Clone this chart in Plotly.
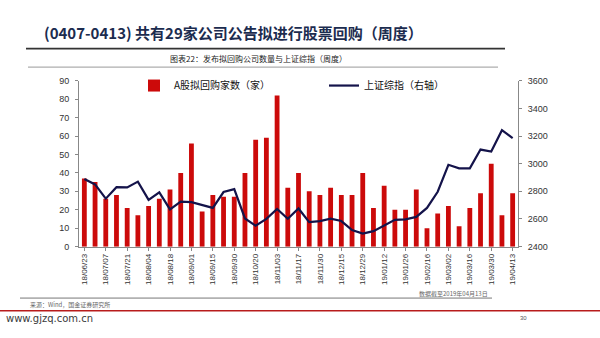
import plotly.graph_objects as go

dates = ["18/06/23", "18/06/30", "18/07/07", "18/07/14", "18/07/21", "18/07/28", "18/08/04",
         "18/08/11", "18/08/18", "18/08/25", "18/09/01", "18/09/08", "18/09/15", "18/09/22",
         "18/09/30", "18/10/13", "18/10/20", "18/10/27", "18/11/03", "18/11/10", "18/11/17",
         "18/11/24", "18/11/30", "18/12/08", "18/12/15", "18/12/22", "18/12/29", "19/01/05",
         "19/01/12", "19/01/19", "19/01/26", "19/02/02", "19/02/16", "19/02/23", "19/03/02",
         "19/03/09", "19/03/16", "19/03/23", "19/03/30", "19/04/06", "19/04/13"]

buybacks = [37, 35, 26, 28, 21, 17, 22, 26, 31, 40, 56, 19, 28, 27, 27, 40, 58, 59, 82, 32, 40,
            30, 28, 32, 28, 28, 40, 21, 33, 20, 20, 31, 10, 18, 22, 11, 21, 29, 45, 17, 29]

sse = [2889, 2850, 2747, 2830, 2828, 2870, 2738, 2792, 2669, 2726, 2722, 2702, 2680, 2795,
       2816, 2604, 2551, 2601, 2672, 2602, 2676, 2577, 2585, 2603, 2585, 2520, 2494, 2512,
       2552, 2594, 2597, 2615, 2680, 2797, 2992, 2966, 2966, 3102, 3088, 3242, 3184]

tick_labels = dates[::2]

W, H = 600, 338


def px(x):
    return x / W


def py(y):
    return 1 - y / H


fig = go.Figure()
fig.add_trace(go.Bar(
    x=dates, y=buybacks, name="A股拟回购家数（家）",
    marker=dict(color="#cc0a0a", line=dict(width=0)), width=0.45,
    legend="legend", yaxis="y",
))
fig.add_trace(go.Scatter(
    x=dates, y=sse, name="上证综指（右轴）", mode="lines",
    line=dict(color="#14134a", width=2.2), legend="legend2", yaxis="y2",
))

axis_font = dict(family="Liberation Sans, Arial, sans-serif", size=9, color="#333333")

fig.update_layout(
    width=W, height=H,
    margin=dict(l=0, r=0, t=0, b=0),
    paper_bgcolor="white", plot_bgcolor="white",
    bargap=0.5,
    xaxis=dict(
        domain=[px(79), px(518)],
        type="category", range=[-0.5, len(dates) - 0.5],
        tickmode="array", tickvals=tick_labels, ticktext=tick_labels,
        tickangle=-90, tickfont=dict(family="Liberation Sans, Arial, sans-serif", size=8, color="#333333"),
        showline=True, linecolor="#888888", linewidth=1,
        ticks="outside", ticklen=3, tickcolor="#888888",
        showgrid=False, zeroline=False,
    ),
    yaxis=dict(
        domain=[py(249), py(78)],
        range=[0, 90], tickvals=[0, 10, 20, 30, 40, 50, 60, 70, 80, 90],
        tickfont=axis_font, showline=True, linecolor="#888888", linewidth=1,
        ticks="outside", ticklen=3, tickcolor="#888888",
        showgrid=False, zeroline=False, ticklabelstandoff=4,
    ),
    yaxis2=dict(
        overlaying="y", side="right", anchor="x",
        range=[2400, 3600], tickvals=[2400, 2600, 2800, 3000, 3200, 3400, 3600],
        tickfont=axis_font, showline=True, linecolor="#888888", linewidth=1,
        ticks="outside", ticklen=3, tickcolor="#888888",
        showgrid=False, zeroline=False, ticklabelstandoff=4,
    ),
    legend=dict(
        x=px(134), y=py(83), xanchor="left", yanchor="middle",
        bgcolor="rgba(0,0,0,0)", itemwidth=30,
        font=dict(family="Noto Sans CJK SC", size=10, color="#111111"),
    ),
    legend2=dict(
        x=px(324), y=py(83), xanchor="left", yanchor="middle",
        bgcolor="rgba(0,0,0,0)", itemwidth=30,
        font=dict(family="Noto Sans CJK SC", size=10, color="#111111"),
    ),
    showlegend=True,
)

# page decorations
fig.add_annotation(
    x=px(42), y=py(28), xref="paper", yref="paper", xanchor="left", yanchor="middle",
    text="<b>(0407-0413) 共有29家公司公告拟进行股票回购（周度）</b>", showarrow=False,
    font=dict(family="Noto Sans CJK SC", size=15, color="#1c2c4f"),
)
fig.add_shape(type="line", xref="paper", yref="paper", x0=px(26), x1=px(505), y0=py(45), y1=py(45),
              line=dict(color="#333333", width=1.6))
fig.add_annotation(
    x=px(258), y=py(55), xref="paper", yref="paper", xanchor="center", yanchor="middle",
    text="图表22：发布拟回购公司数量与上证综指（周度）", showarrow=False,
    font=dict(family="Noto Sans CJK SC", size=8, color="#222222"),
)
fig.add_shape(type="line", xref="paper", yref="paper", x0=px(28), x1=px(498), y0=py(64), y1=py(64),
              line=dict(color="#999999", width=1))

fig.add_annotation(
    x=px(490), y=py(297), xref="paper", yref="paper", xanchor="right", yanchor="middle",
    text="数据截至2019年04月13日", showarrow=False,
    font=dict(family="Noto Sans CJK SC", size=6, color="#666666"),
)
fig.add_shape(type="line", xref="paper", yref="paper", x0=px(20), x1=px(492), y0=py(302), y1=py(302),
              line=dict(color="#777777", width=1))
fig.add_annotation(
    x=px(28), y=py(309), xref="paper", yref="paper", xanchor="left", yanchor="middle",
    text="来源：Wind，国金证券研究所", showarrow=False,
    font=dict(family="Noto Sans CJK SC", size=6, color="#666666"),
)
fig.add_shape(type="line", xref="paper", yref="paper", x0=0, x1=1, y0=py(315), y1=py(315),
              line=dict(color="#b81c1c", width=1.5))
fig.add_annotation(
    x=px(4), y=py(323), xref="paper", yref="paper", xanchor="left", yanchor="middle",
    text="www.gjzq.com.cn", showarrow=False,
    font=dict(family="DejaVu Sans", size=10, color="#3a3a3a"),
)
fig.add_annotation(
    x=px(523), y=py(323), xref="paper", yref="paper", xanchor="center", yanchor="middle",
    text="30", showarrow=False,
    font=dict(family="Liberation Sans", size=6, color="#555555"),
)

fig.write_html("out.html")
